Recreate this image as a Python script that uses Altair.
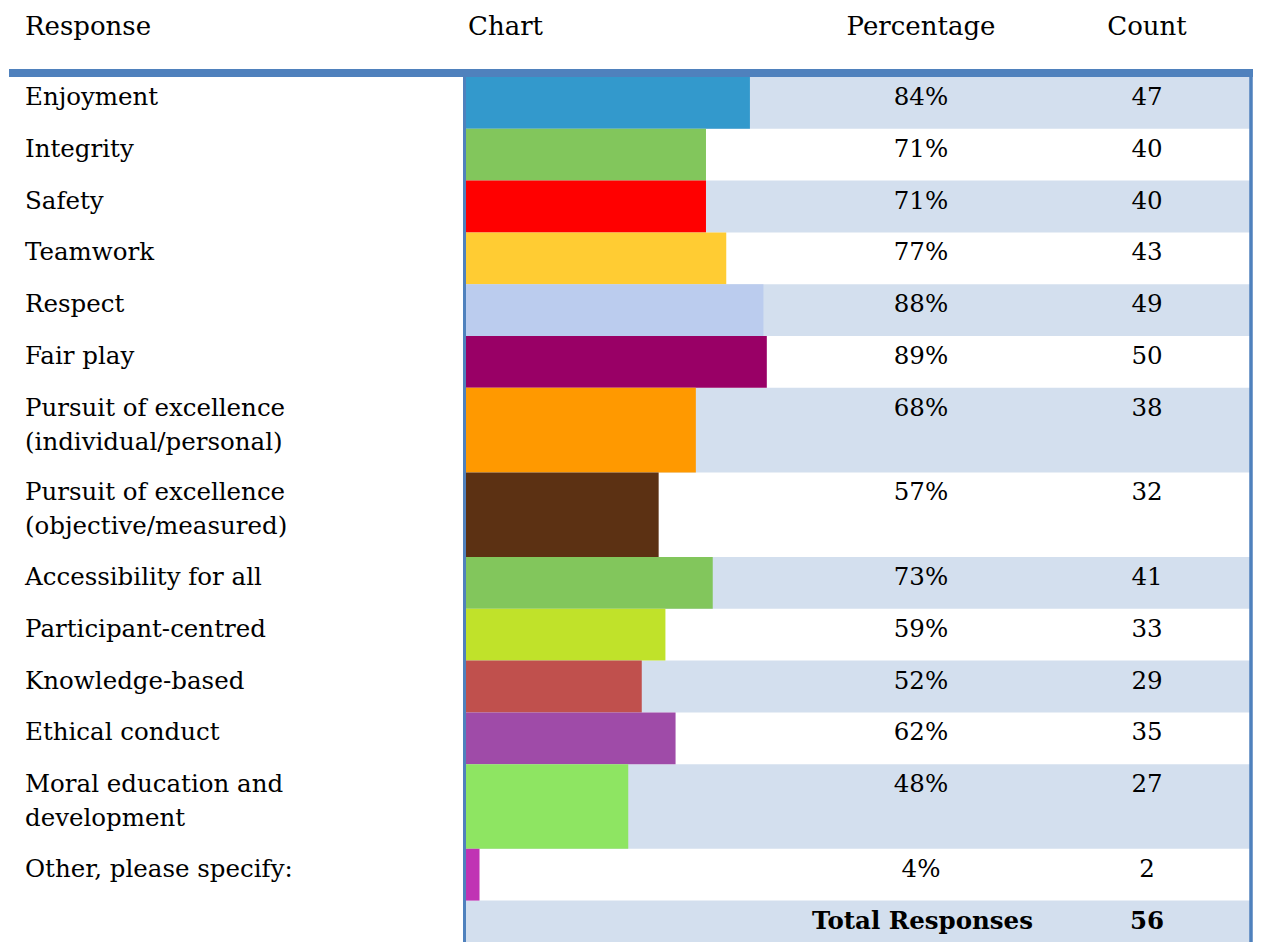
import altair as alt
import pandas as pd

# ---- data ----
responses = [
    "Enjoyment", "Integrity", "Safety", "Teamwork", "Respect", "Fair play",
    "Pursuit of excellence\n(individual/personal)",
    "Pursuit of excellence\n(objective/measured)",
    "Accessibility for all", "Participant-centred", "Knowledge-based",
    "Ethical conduct", "Moral education and\ndevelopment", "Other, please specify:",
]
percentages = [84, 71, 71, 77, 88, 89, 68, 57, 73, 59, 52, 62, 48, 4]
counts = [47, 40, 40, 43, 49, 50, 38, 32, 41, 33, 29, 35, 27, 2]
bar_colors = [
    "#3399CC", "#82C65C", "#FF0000", "#FFCC33", "#BBCCEE", "#990066", "#FF9900",
    "#5C3113", "#82C65C", "#C0E22A", "#C0504D", "#9F4BA8", "#8EE562", "#C033B4",
]
total_label = "Total Responses"
total_count = 56
headers = ["Response", "Chart", "Percentage", "Count"]

# ---- row layout (row height follows the number of label lines) ----
rows = []
top = 0.0
for i, (lab, p, c, col) in enumerate(zip(responses, percentages, counts, bar_colors)):
    lines = lab.count("\n") + 1
    h = 19 + 32.8 * lines
    rows.append(dict(label=lab, pct=p, pct_text=f"{p}%", count=c, color=col,
                     top=top, bottom=top + h, zero=0, band=(i % 2 == 0)))
    top += h
df = pd.DataFrame(rows)
total_df = pd.DataFrame([dict(label=total_label, count=total_count, top=top,
                              bottom=top + 51.8, band=True)])
band_df = pd.concat([df[["top", "bottom", "band"]], total_df[["top", "bottom", "band"]]])
band_df = band_df[band_df["band"]]

FONT = "DejaVu Serif"
BODY = 24.5
HEAD = 26
BLUE = "#4F81BD"
BAND = "#D3DFEE"
W = 1245
H = 934

yscale = alt.Scale(domain=[0, H - 69], range=[69, H])
xscale = alt.Scale(domain=[0, 100], range=[458, 796])
one = pd.DataFrame({"k": [0]})

bands = alt.Chart(band_df).mark_rect(color=BAND, clip=True).encode(
    x=alt.value(458), x2=alt.value(1242),
    y=alt.Y("top:Q", scale=yscale, axis=None), y2="bottom:Q",
)
bars = alt.Chart(df).mark_rect().encode(
    x=alt.X("zero:Q", scale=xscale, axis=None), x2="pct:Q",
    y=alt.Y("top:Q", scale=yscale, axis=None), y2="bottom:Q",
    color=alt.Color("color:N", scale=None),
)
labels = alt.Chart(df).mark_text(
    font=FONT, fontSize=BODY, align="left", baseline="alphabetic",
    lineBreak="\n", lineHeight=34, dy=28, color="#000000",
).encode(x=alt.value(17), y=alt.Y("top:Q", scale=yscale, axis=None), text="label:N")
pct_text = alt.Chart(df).mark_text(
    font=FONT, fontSize=BODY, align="center", baseline="alphabetic", dy=28, color="#000000",
).encode(x=alt.value(913), y=alt.Y("top:Q", scale=yscale, axis=None), text="pct_text:N")
count_text = alt.Chart(df).mark_text(
    font=FONT, fontSize=BODY, align="center", baseline="alphabetic", dy=28, color="#000000",
).encode(x=alt.value(1139), y=alt.Y("top:Q", scale=yscale, axis=None), text="count:Q")
total_lab = alt.Chart(total_df).mark_text(
    font=FONT, fontSize=BODY, fontWeight="bold", align="right", baseline="alphabetic",
    dy=28, color="#000000",
).encode(x=alt.value(1025), y=alt.Y("top:Q", scale=yscale, axis=None), text="label:N")
total_cnt = alt.Chart(total_df).mark_text(
    font=FONT, fontSize=BODY, fontWeight="bold", align="center", baseline="alphabetic",
    dy=28, color="#000000",
).encode(x=alt.value(1139), y=alt.Y("top:Q", scale=yscale, axis=None), text="count:Q")

def header(text, x, align):
    return alt.Chart(one).mark_text(
        font=FONT, fontSize=HEAD, align=align, baseline="alphabetic", color="#000000",
        text=text,
    ).encode(x=alt.value(x), y=alt.value(27))

h1 = header(headers[0], 17, "left")
h2 = header(headers[1], 460, "left")
h3 = header(headers[2], 913, "center")
h4 = header(headers[3], 1139, "center")

top_line = alt.Chart(one).mark_rule(color=BLUE, strokeWidth=8).encode(
    x=alt.value(1), x2=alt.value(W), y=alt.value(65))
left_line = alt.Chart(one).mark_rule(color=BLUE, strokeWidth=3).encode(
    x=alt.value(456.5), y=alt.value(69), y2=alt.value(H))
right_line = alt.Chart(one).mark_rule(color=BLUE, strokeWidth=3.5).encode(
    x=alt.value(W - 2), y=alt.value(69), y2=alt.value(H))

chart = alt.layer(
    bands, bars, labels, pct_text, count_text, total_lab, total_cnt,
    h1, h2, h3, h4, top_line, left_line, right_line,
).properties(
    width=W, height=H, padding=0,
    autosize=alt.AutoSizeParams(type="none"),
).configure_view(strokeWidth=0)

chart.save("out.html", embed_options={"renderer": "svg", "actions": False})
